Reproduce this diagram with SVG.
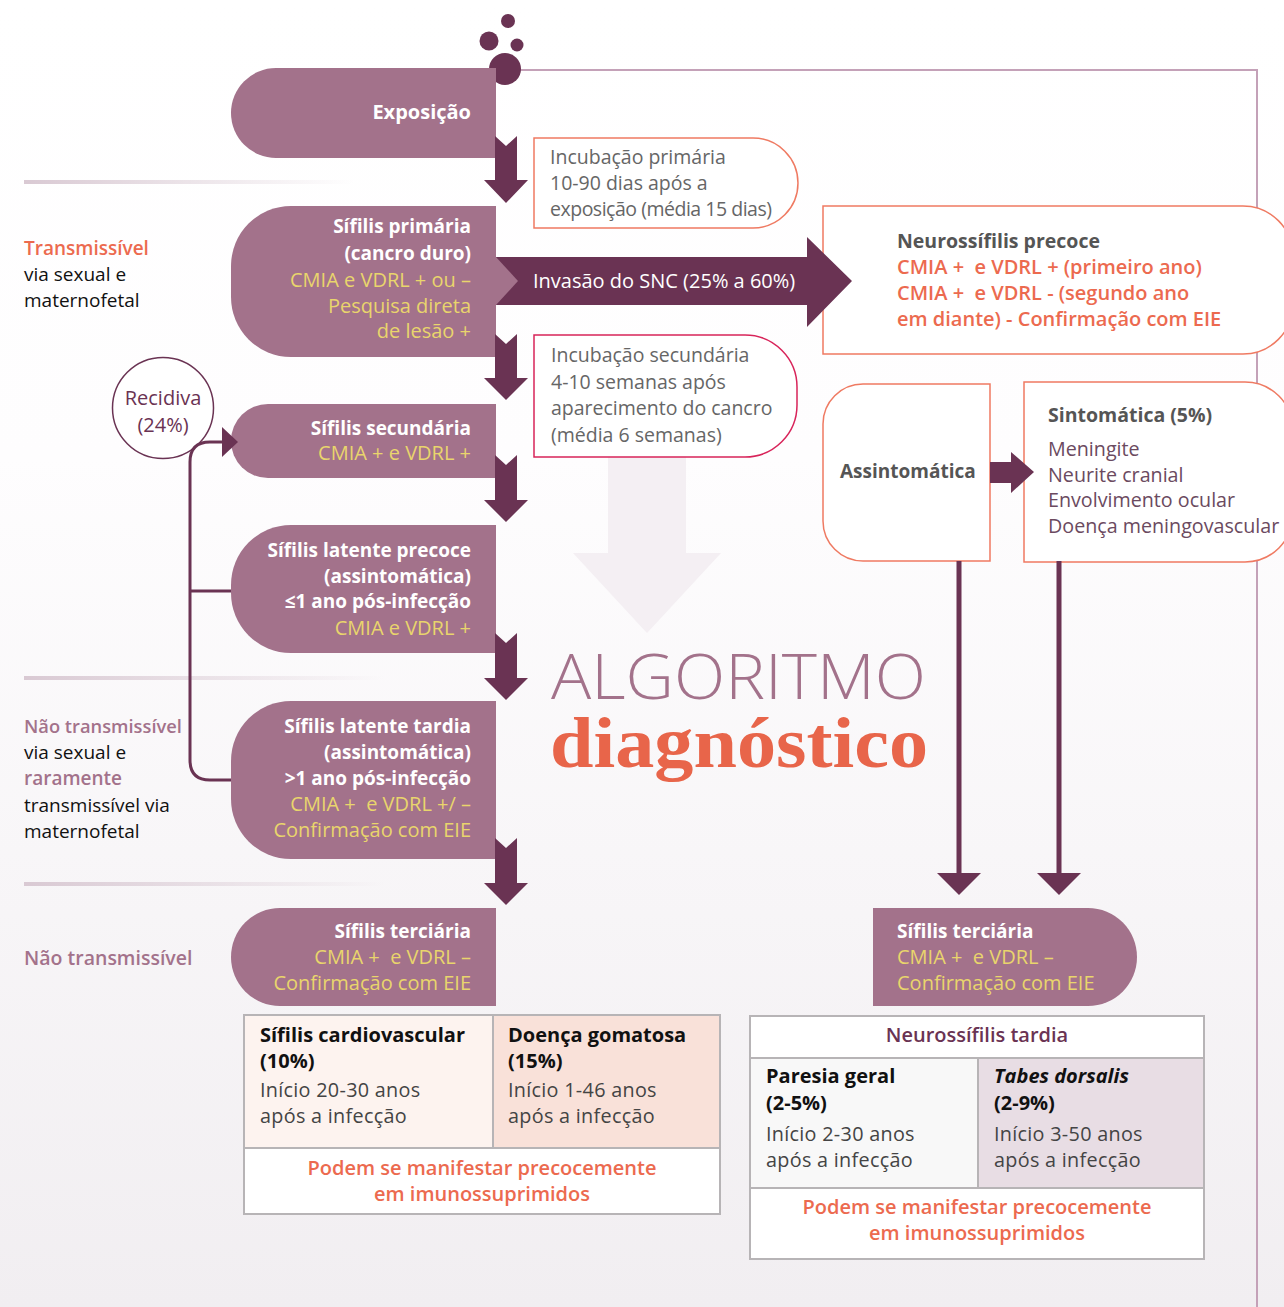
<svg xmlns="http://www.w3.org/2000/svg" width="1284" height="1307" viewBox="0 0 1284 1307">
<defs>
<linearGradient id="bg" x1="0" y1="0" x2="0" y2="1">
<stop offset="0" stop-color="#ffffff"/><stop offset="0.35" stop-color="#fefdfe"/><stop offset="1" stop-color="#f1eef1"/>
</linearGradient>
<linearGradient id="fade" x1="0" y1="0" x2="1" y2="0">
<stop offset="0" stop-color="#d9c9d3"/><stop offset="1" stop-color="#d9c9d3" stop-opacity="0"/>
</linearGradient>
<style>
text{font-family:"Open Sans","Noto Sans",sans-serif;font-size:19px}
.pt{fill:#ffffff;font-weight:700;text-anchor:end}
.py{fill:#e9d56c;font-weight:500;text-anchor:end;font-size:20px}
.pyl{fill:#e9d56c;font-weight:500;font-size:20px}
.ptl{fill:#ffffff;font-weight:700}
.pill{fill:#a3728b}
.dark{fill:#6a3353}
.inc{fill:#666666;font-size:19.5px}
.hd{fill:#555555;font-weight:700;font-size:19.5px}
.or{fill:#ec6a4f;font-weight:600;font-size:20px}
.lst{fill:#6b4a60;font-size:19.7px}
.obox{fill:#ffffff;stroke:#ef7a62;stroke-width:1.5}
.tb{fill:#111111;font-weight:700;font-size:20px}
.tr{fill:#444444;font-size:19.8px;letter-spacing:0.3px}
.cell{stroke:#b7b4b6;stroke-width:2}
.blk{fill:#111111}
.rc{fill:#6a3353;text-anchor:middle;font-size:20px}
</style>
</defs>
<rect width="1284" height="1307" fill="url(#bg)"/>

<!-- frame line -->
<path d="M505,70 H1257 V1307" fill="none" stroke="#c4a1b8" stroke-width="2"/>

<!-- left band lines -->
<g id="bands">
<rect x="24" y="180" width="330" height="4" fill="url(#fade)"/>
<rect x="24" y="676" width="360" height="4" fill="url(#fade)"/>
<rect x="24" y="882" width="360" height="4" fill="url(#fade)"/>
</g>

<!-- background pale arrow -->
<polygon points="608,457 686,457 686,553 721,553 647,633 573,553 608,553" fill="#f4eff3"/>

<!-- dots -->
<g id="dots" class="dark">
<circle cx="508" cy="21" r="7"/>
<circle cx="489" cy="41" r="9.5"/>
<circle cx="517" cy="45" r="6.5"/>
<circle cx="505" cy="69" r="16"/>
</g>

<!-- left labels -->
<g id="labels">
<text x="24" y="255" fill="#ec6a4f" font-weight="600">Transmissível</text>
<text x="24" y="281" class="blk">via sexual e</text>
<text x="24" y="307" class="blk">maternofetal</text>
<text x="24" y="733" fill="#a3728b" font-weight="600" style="font-size:18.3px">Não transmissível</text>
<text x="24" y="759" class="blk">via sexual e</text>
<text x="24" y="785" fill="#a3728b" font-weight="600">raramente</text>
<text x="24" y="812" class="blk">transmissível via</text>
<text x="24" y="838" class="blk">maternofetal</text>
<text x="24" y="965" fill="#a3728b" font-weight="600" style="font-size:19.5px">Não transmissível</text>
</g>

<!-- nodes -->
<g id="exposicao">
<path class="pill" d="M276,68 H496 V158 H276 A45,45 0 0 1 276,68 Z"/>
<text x="471" y="119" class="pt" style="font-size:20px">Exposição</text>
</g>

<g id="primaria">
<path class="pill" d="M291,206 H496 V357 H291 A60,60 0 0 1 231,297 V266 A60,60 0 0 1 291,206 Z"/>
<text x="471" y="233" class="pt">Sífilis primária</text>
<text x="471" y="260" class="pt">(cancro duro)</text>
<text x="471" y="287" class="py">CMIA e VDRL + ou –</text>
<text x="471" y="313" class="py">Pesquisa direta</text>
<text x="471" y="338" class="py">de lesão +</text>
</g>

<g id="secundaria">
<path class="pill" d="M268,404 H496 V478 H268 A37,37 0 0 1 268,404 Z"/>
<text x="471" y="435" class="pt">Sífilis secundária</text>
<text x="471" y="460" class="py">CMIA + e VDRL +</text>
</g>

<g id="latente-precoce">
<path class="pill" d="M291,525 H496 V653 H291 A60,60 0 0 1 231,593 V585 A60,60 0 0 1 291,525 Z"/>
<text x="471" y="557" class="pt">Sífilis latente precoce</text>
<text x="471" y="583" class="pt">(assintomática)</text>
<text x="471" y="608" class="pt">≤1 ano pós-infecção</text>
<text x="471" y="635" class="py">CMIA e VDRL +</text>
</g>

<g id="latente-tardia">
<path class="pill" d="M291,701 H496 V859 H291 A60,60 0 0 1 231,799 V761 A60,60 0 0 1 291,701 Z"/>
<text x="471" y="733" class="pt">Sífilis latente tardia</text>
<text x="471" y="759" class="pt">(assintomática)</text>
<text x="471" y="785" class="pt">&gt;1 ano pós-infecção</text>
<text x="471" y="811" class="py">CMIA +&#160; e VDRL +/ –</text>
<text x="471" y="837" class="py">Confirmação com EIE</text>
</g>

<g id="terciaria-esq">
<path class="pill" d="M280,908 H496 V1006 H280 A49,49 0 0 1 280,908 Z"/>
<text x="471" y="938" class="pt">Sífilis terciária</text>
<text x="471" y="964" class="py">CMIA +&#160; e VDRL –</text>
<text x="471" y="990" class="py">Confirmação com EIE</text>
</g>

<g id="terciaria-dir">
<path class="pill" d="M873,908 H1088 A49,49 0 0 1 1088,1006 H873 Z"/>
<text x="897" y="938" class="ptl">Sífilis terciária</text>
<text x="897" y="964" class="pyl">CMIA +&#160; e VDRL –</text>
<text x="897" y="990" class="pyl">Confirmação com EIE</text>
</g>

<g id="incubacao-primaria">
<path d="M534,138 H753 A45,45 0 0 1 753,228 H534 Z" fill="#ffffff" stroke="#ef7a62" stroke-width="1.5"/>
<text x="550" y="164" class="inc">Incubação primária</text>
<text x="550" y="190" class="inc">10-90 dias após a</text>
<text x="550" y="216" class="inc" textLength="222" lengthAdjust="spacing">exposição (média 15 dias)</text>
</g>

<g id="incubacao-secundaria">
<path d="M534,335 H745 A52,52 0 0 1 797,387 V405 A52,52 0 0 1 745,457 H534 Z" fill="#ffffff" stroke="#d8245a" stroke-width="1.5"/>
<text x="551" y="362" class="inc">Incubação secundária</text>
<text x="551" y="389" class="inc">4-10 semanas após</text>
<text x="551" y="415" class="inc">aparecimento do cancro</text>
<text x="551" y="442" class="inc">(média 6 semanas)</text>
</g>

<g id="neuro-precoce">
<path class="obox" d="M823,206 H1243 A50,50 0 0 1 1293,256 V304 A50,50 0 0 1 1243,354 H823 Z"/>
<text x="897" y="248" class="hd">Neurossífilis precoce</text>
<text x="897" y="274" class="or">CMIA +&#160; e VDRL + (primeiro ano)</text>
<text x="897" y="300" class="or">CMIA +&#160; e VDRL - (segundo ano</text>
<text x="897" y="326" class="or">em diante) - Confirmação com EIE</text>
</g>

<g id="assintomatica">
<path class="obox" d="M863,384 H990 V561 H863 A40,40 0 0 1 823,521 V424 A40,40 0 0 1 863,384 Z"/>
<text x="840" y="478" class="hd" style="font-size:19px">Assintomática</text>
</g>

<g id="sintomatica">
<path class="obox" d="M1024,382 H1245 A48,48 0 0 1 1293,430 V514 A48,48 0 0 1 1245,562 H1024 Z"/>
<text x="1048" y="422" class="hd">Sintomática (5%)</text>
<text x="1048" y="456" class="lst">Meningite</text>
<text x="1048" y="482" class="lst">Neurite cranial</text>
<text x="1048" y="507" class="lst">Envolvimento ocular</text>
<text x="1048" y="533" class="lst">Doença meningovascular</text>
</g>

<g id="recidiva">
<circle cx="163" cy="408" r="50.5" fill="#ffffff" stroke="#6a3353" stroke-width="1.5"/>
<text x="163" y="405" class="rc">Recidiva</text>
<text x="163" y="432" class="rc">(24%)</text>
</g>

<g id="titulo">
<text x="551" y="699" fill="#a3728b" style="font-size:62px;font-weight:300" textLength="375" lengthAdjust="spacingAndGlyphs">ALGORITMO</text>
<text x="550" y="767" fill="#e8654a" style="font-family:'Liberation Serif','DejaVu Serif',serif;font-size:72px;font-weight:700" textLength="378" lengthAdjust="spacingAndGlyphs">diagnóstico</text>
</g>

<g id="tabela-esq">
<rect x="244" y="1015" width="249" height="133" fill="#fdf3ef" class="cell"/>
<rect x="493" y="1015" width="227" height="133" fill="#f9e1d9" class="cell"/>
<rect x="244" y="1148" width="476" height="66" fill="#ffffff" class="cell"/>
<text x="260" y="1042" class="tb">Sífilis cardiovascular</text>
<text x="260" y="1068" class="tb">(10%)</text>
<text x="260" y="1097" class="tr">Início 20-30 anos</text>
<text x="260" y="1123" class="tr">após a infecção</text>
<text x="508" y="1042" class="tb">Doença gomatosa</text>
<text x="508" y="1068" class="tb">(15%)</text>
<text x="508" y="1097" class="tr">Início 1-46 anos</text>
<text x="508" y="1123" class="tr">após a infecção</text>
<text x="482" y="1175" class="or" text-anchor="middle">Podem se manifestar precocemente</text>
<text x="482" y="1201" class="or" text-anchor="middle">em imunossuprimidos</text>
</g>

<g id="tabela-dir">
<rect x="750" y="1016" width="454" height="42" fill="#ffffff" class="cell"/>
<rect x="750" y="1058" width="228" height="130" fill="#f8f8f8" class="cell"/>
<rect x="978" y="1058" width="226" height="130" fill="#e8dde4" class="cell"/>
<rect x="750" y="1188" width="454" height="71" fill="#ffffff" class="cell"/>
<text x="977" y="1042" fill="#6a3353" font-weight="600" text-anchor="middle" style="font-size:20px">Neurossífilis tardia</text>
<text x="766" y="1083" class="tb">Paresia geral</text>
<text x="766" y="1110" class="tb">(2-5%)</text>
<text x="766" y="1141" class="tr">Início 2-30 anos</text>
<text x="766" y="1167" class="tr">após a infecção</text>
<text x="994" y="1083" class="tb" font-style="italic">Tabes dorsalis</text>
<text x="994" y="1110" class="tb">(2-9%)</text>
<text x="994" y="1141" class="tr">Início 3-50 anos</text>
<text x="994" y="1167" class="tr">após a infecção</text>
<text x="977" y="1214" class="or" text-anchor="middle">Podem se manifestar precocemente</text>
<text x="977" y="1240" class="or" text-anchor="middle">em imunossuprimidos</text>
</g>

<!-- connectors -->
<g id="connectors" class="dark">
<polygon points="495,136 506,146 517,136 517,180 528,180 506,203 484,180 495,180"/>
<polygon points="495,334 506,344 517,334 517,378 528,378 506,400 484,378 495,378"/>
<polygon points="495,455 506,465 517,455 517,500 528,500 506,522 484,500 495,500"/>
<polygon points="495,633 506,643 517,633 517,678 528,678 506,700 484,678 495,678"/>
<polygon points="495,838 506,848 517,838 517,883 528,883 506,905 484,883 495,883"/>
<polygon points="496,257 807,257 807,237 852,281 807,327 807,305 496,305"/>
<polygon points="990,462 1011,462 1011,452 1034,472 1011,493 1011,483 990,483"/>
<rect x="956.5" y="561" width="5" height="314"/>
<polygon points="937,873 981,873 959,895"/>
<rect x="1056.5" y="561" width="5" height="314"/>
<polygon points="1037,873 1081,873 1059,895"/>
<path d="M231,780 H210 Q190,780 190,760 V462 Q190,442 210,442 H224 M190,591 H231" fill="none" stroke="#6a3353" stroke-width="3"/>
<polygon points="222,427 238,442 222,457"/>
</g>
<polygon points="496,257 518,281 496,305" fill="#a3728b"/>
<text x="533" y="288" fill="#ffffff" font-weight="500" style="font-size:20px">Invasão do SNC (25% a 60%)</text>
</svg>
